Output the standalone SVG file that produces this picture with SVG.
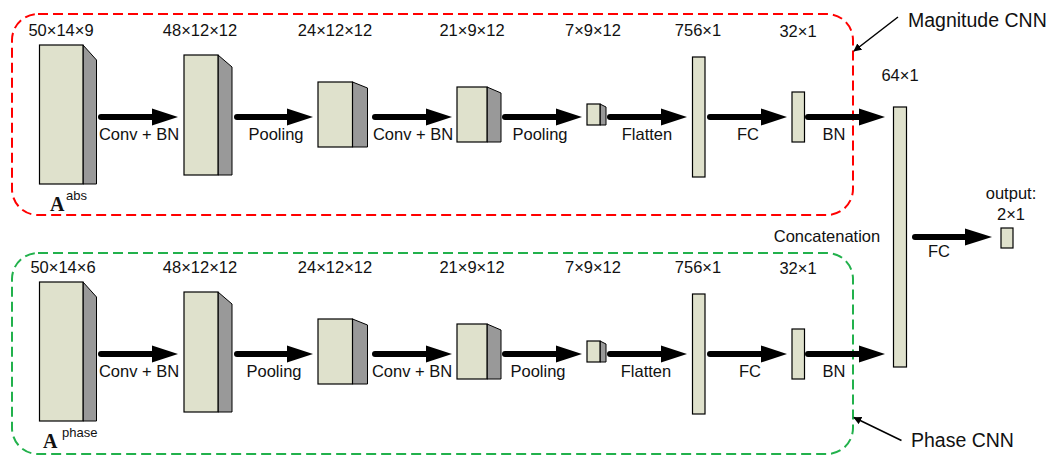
<svg xmlns="http://www.w3.org/2000/svg" width="1057" height="456" viewBox="0 0 1057 456">
<style>
text{font-family:"Liberation Sans",Arial,sans-serif;fill:#111;}
.lbl{font-size:16.5px;text-anchor:middle;}
.big{font-size:19.5px;}
.front{fill:#dfe1cc;stroke:#000;stroke-width:1.2;}
.side{fill:#999;stroke:#000;stroke-width:1;}
.shaft{stroke:#000;stroke-width:6;stroke-linecap:round;fill:none;}
.head{fill:#000;}
.thin{stroke:#000;stroke-width:1.5;fill:none;marker-end:url(#tip);}
.sym{font-family:"Liberation Serif","Times New Roman",serif;font-weight:bold;font-size:20px;}
.sup{font-size:13px;}
</style>
<defs>
<marker id="tip" viewBox="0 0 10 10" refX="9" refY="5" markerWidth="8" markerHeight="8" markerUnits="userSpaceOnUse" orient="auto"><path d="M0,0 L10,5 L0,10 z" fill="#000"/></marker>
</defs>

<g id="magnitude-frame">
<rect x="12" y="14" width="841" height="201" rx="26" fill="none" stroke="#ff0000" stroke-width="2" stroke-dasharray="10 5"/>
</g>
<g id="phase-frame">
<rect x="12" y="253" width="841" height="201" rx="26" fill="none" stroke="#22b14c" stroke-width="2" stroke-dasharray="10 5"/>
</g>

<!-- top row -->
<g id="t1">
<polygon class="side" points="83,45 96.5,60 96.5,184 83,184"/>
<rect class="front" x="39.5" y="45" width="43.5" height="139"/>
<text class="lbl" x="61" y="36">50×14×9</text>
<text class="sym" x="50" y="211">A</text><text class="sup" x="66" y="200">abs</text>
</g>
<g id="t2">
<polygon class="side" points="218,55 232,67 232,175 218,175"/>
<rect class="front" x="184" y="55" width="34" height="120"/>
<text class="lbl" x="200" y="36">48×12×12</text>
</g>
<g id="t3">
<polygon class="side" points="352.5,82 367.5,88 367.5,147 352.5,147"/>
<rect class="front" x="318" y="82" width="34.5" height="65"/>
<text class="lbl" x="335" y="36">24×12×12</text>
</g>
<g id="t4">
<polygon class="side" points="487,87 501,93 501,142 487,142"/>
<rect class="front" x="457" y="87" width="30" height="55"/>
<text class="lbl" x="472" y="36">21×9×12</text>
</g>
<g id="t5">
<polygon class="side" points="600,104 606,107 606,125 600,125"/>
<rect class="front" x="587" y="104" width="13" height="21"/>
<text class="lbl" x="593" y="36">7×9×12</text>
</g>
<g id="t6">
<rect class="front" x="692.5" y="57" width="12.5" height="120"/>
<text class="lbl" x="698" y="36">756×1</text>
</g>
<g id="t7">
<rect class="front" x="792" y="92" width="12.5" height="50"/>
<text class="lbl" x="798" y="37">32×1</text>
</g>

<!-- bottom row -->
<g id="b1">
<polygon class="side" points="83,282 96.5,297 96.5,421 83,421"/>
<rect class="front" x="39.5" y="282" width="43.5" height="139"/>
<text class="lbl" x="63" y="273">50×14×6</text>
<text class="sym" x="43" y="448">A</text><text class="sup" x="62" y="437">phase</text>
</g>
<g id="b2">
<polygon class="side" points="218,292 232,304 232,412 218,412"/>
<rect class="front" x="184" y="292" width="34" height="120"/>
<text class="lbl" x="200" y="273">48×12×12</text>
</g>
<g id="b3">
<polygon class="side" points="352.5,319 367.5,325 367.5,384 352.5,384"/>
<rect class="front" x="318" y="319" width="34.5" height="65"/>
<text class="lbl" x="335" y="273">24×12×12</text>
</g>
<g id="b4">
<polygon class="side" points="487,324 501,330 501,379 487,379"/>
<rect class="front" x="457" y="324" width="30" height="55"/>
<text class="lbl" x="472" y="273">21×9×12</text>
</g>
<g id="b5">
<polygon class="side" points="600,341 606,344 606,362 600,362"/>
<rect class="front" x="587" y="341" width="13" height="21"/>
<text class="lbl" x="593" y="273">7×9×12</text>
</g>
<g id="b6">
<rect class="front" x="692.5" y="294" width="12.5" height="120"/>
<text class="lbl" x="698" y="273">756×1</text>
</g>
<g id="b7">
<rect class="front" x="792" y="329" width="12.5" height="50"/>
<text class="lbl" x="798" y="274">32×1</text>
</g>

<g id="concat">
<rect class="front" x="893.5" y="107" width="13" height="260"/>
<text class="lbl" x="900" y="81">64×1</text>
<text class="lbl" x="827" y="242">Concatenation</text>
</g>
<g id="output">
<rect class="front" x="1001" y="228" width="12" height="20"/>
<text class="lbl" x="1011" y="199">output:</text>
<text class="lbl" x="1011" y="220">2×1</text>
</g>
<g id="magnitude-label">
<text class="big" x="908" y="27">Magnitude CNN</text>
</g>
<g id="phase-label">
<text class="big" x="911" y="447">Phase CNN</text>
</g>

<g id="connectors">
<path class="shaft" d="M101,117 H155"/><polygon class="head" points="152,108.5 178,117 152,125.5"/>
<path class="shaft" d="M237,117 H290"/><polygon class="head" points="287,108.5 313,117 287,125.5"/>
<path class="shaft" d="M375,117 H429"/><polygon class="head" points="426,108.5 452,117 426,125.5"/>
<path class="shaft" d="M505,117 H559"/><polygon class="head" points="556,108.5 582,117 556,125.5"/>
<path class="shaft" d="M610,117 H664"/><polygon class="head" points="661,108.5 687,117 661,125.5"/>
<path class="shaft" d="M710,117 H764"/><polygon class="head" points="761,108.5 787,117 761,125.5"/>
<path class="shaft" d="M808,117 H862"/><polygon class="head" points="859,108.5 885,117 859,125.5"/>
<path class="shaft" d="M101,354 H155"/><polygon class="head" points="152,345.5 178,354 152,362.5"/>
<path class="shaft" d="M237,354 H290"/><polygon class="head" points="287,345.5 313,354 287,362.5"/>
<path class="shaft" d="M375,354 H429"/><polygon class="head" points="426,345.5 452,354 426,362.5"/>
<path class="shaft" d="M505,354 H559"/><polygon class="head" points="556,345.5 582,354 556,362.5"/>
<path class="shaft" d="M610,354 H664"/><polygon class="head" points="661,345.5 687,354 661,362.5"/>
<path class="shaft" d="M710,354 H764"/><polygon class="head" points="761,345.5 787,354 761,362.5"/>
<path class="shaft" d="M808,354 H862"/><polygon class="head" points="859,345.5 885,354 859,362.5"/>
<path class="shaft" d="M915,237 H968"/><polygon class="head" points="965,228.5 992,237 965,245.5"/>
<line class="thin" x1="898" y1="17" x2="854" y2="51"/>
<line class="thin" x1="901.5" y1="440.5" x2="854" y2="417.5"/>
<text class="lbl" x="139" y="140">Conv + BN</text>
<text class="lbl" x="276" y="140">Pooling</text>
<text class="lbl" x="413" y="140">Conv + BN</text>
<text class="lbl" x="540" y="140">Pooling</text>
<text class="lbl" x="647" y="140">Flatten</text>
<text class="lbl" x="748" y="140">FC</text>
<text class="lbl" x="834" y="140">BN</text>
<text class="lbl" x="139" y="377">Conv + BN</text>
<text class="lbl" x="274" y="377">Pooling</text>
<text class="lbl" x="412" y="377">Conv + BN</text>
<text class="lbl" x="538" y="377">Pooling</text>
<text class="lbl" x="646" y="377">Flatten</text>
<text class="lbl" x="750" y="377">FC</text>
<text class="lbl" x="834" y="377">BN</text>
<text class="lbl" x="939" y="257">FC</text>
</g>
</svg>
